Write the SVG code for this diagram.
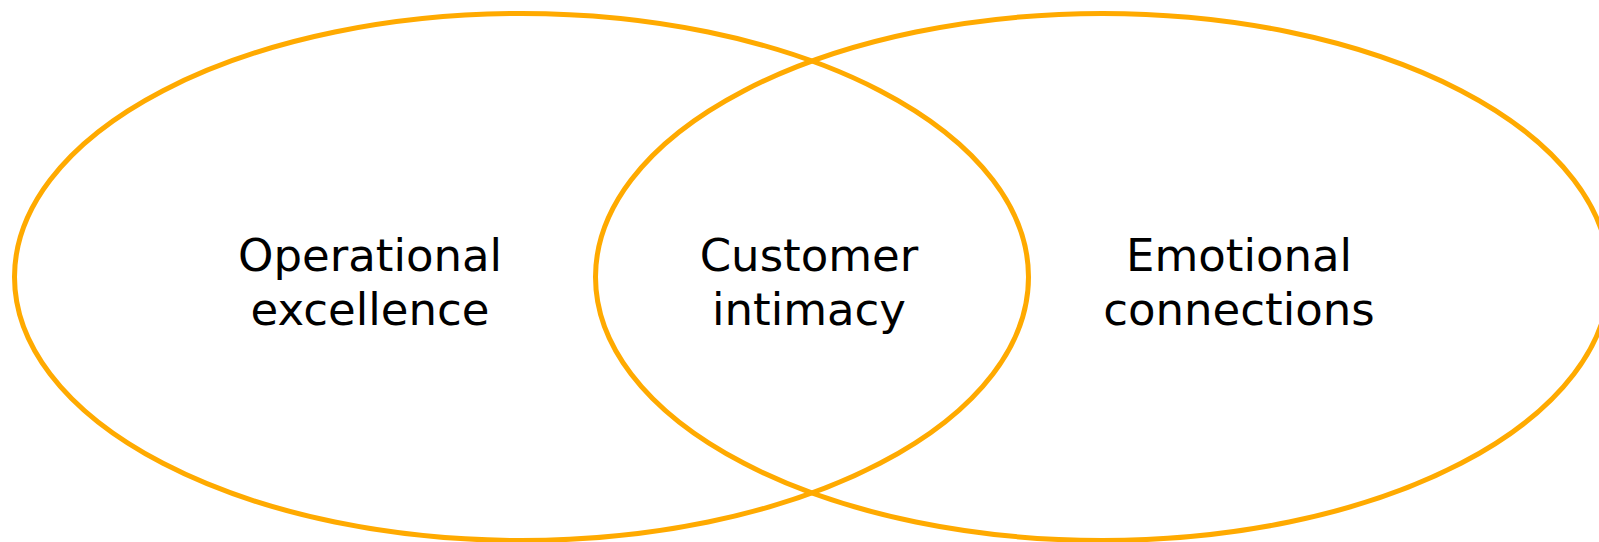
<svg xmlns="http://www.w3.org/2000/svg" width="1599" height="542" viewBox="0 0 1599 542">
<style>
.ring{fill:none;stroke:#FFAA00;stroke-width:5}
.lbl{font-family:"DejaVu Sans","Liberation Sans",sans-serif;font-size:45px;fill:#000;text-anchor:middle}
</style>
<rect width="1599" height="542" fill="#fff"/>
<g id="operational">
<ellipse class="ring" cx="521.5" cy="277" rx="507" ry="263.5"/>
<text class="lbl" x="370" y="271">Operational</text>
<text class="lbl" x="370" y="325">excellence</text>
</g>
<g id="emotional">
<ellipse class="ring" cx="1102.5" cy="277" rx="507" ry="263.5"/>
<text class="lbl" x="1239" y="271">Emotional</text>
<text class="lbl" x="1239" y="325">connections</text>
</g>
<g id="customer">
<text class="lbl" x="809" y="271">Customer</text>
<text class="lbl" x="809" y="325">intimacy</text>
</g>
<g id="connectors"/>
</svg>
